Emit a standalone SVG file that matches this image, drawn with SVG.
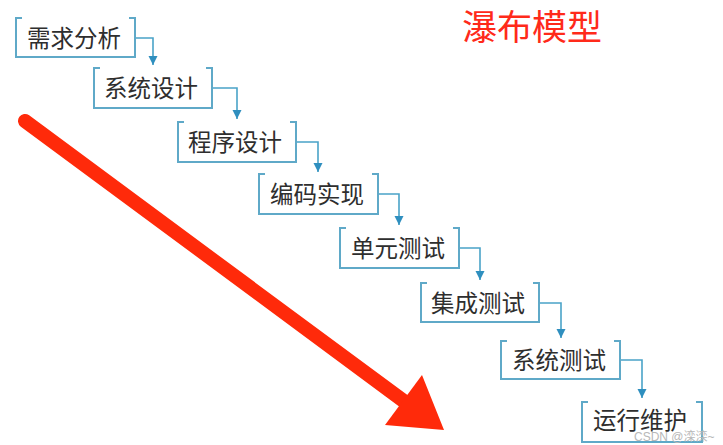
<svg xmlns="http://www.w3.org/2000/svg" width="723" height="445" viewBox="0 0 723 445">
<style>
.box{fill:none;stroke:#5fa9c8;stroke-width:2}
.lbl{font-family:"Noto Sans CJK SC","Liberation Serif",serif;font-size:23.5px;fill:#2e2e2e;text-anchor:middle}
.con{fill:none;stroke:#4aa3c8;stroke-width:1.6}
</style>
<defs>
<marker id="ah" markerWidth="10" markerHeight="10" refX="9" refY="5" orient="auto" markerUnits="userSpaceOnUse">
<path d="M0,0.5 L9,5 L0,9.5 Z" fill="#2f8fbf"/>
</marker>
</defs>
<rect width="723" height="445" fill="#ffffff"/>
<text x="532" y="40" font-family="Noto Sans CJK SC, sans-serif" font-size="35" fill="#ff2a1a" text-anchor="middle">瀑布模型</text>
<g id="connectors">
<path class="con" marker-end="url(#ah)" d="M135,38 H153 V65"/>
<path class="con" marker-end="url(#ah)" d="M212,88 H237 V119"/>
<path class="con" marker-end="url(#ah)" d="M296,142 H318 V172"/>
<path class="con" marker-end="url(#ah)" d="M378,194 H399 V225"/>
<path class="con" marker-end="url(#ah)" d="M459,248 H480 V280"/>
<path class="con" marker-end="url(#ah)" d="M539,303 H561 V338"/>
<path class="con" marker-end="url(#ah)" d="M620,360 H642 V398"/>
</g>
<g id="n1"><path class="box" d="M22,18 H16 V57 H135 V18 H129"/><text class="lbl" x="74" y="47">需求分析</text></g>
<g id="n2"><path class="box" d="M100,68 H94 V108 H212 V68 H206"/><text class="lbl" x="151" y="97">系统设计</text></g>
<g id="n3"><path class="box" d="M184,122 H178 V162 H296 V122 H290"/><text class="lbl" x="235" y="151">程序设计</text></g>
<g id="n4"><path class="box" d="M265,174 H259 V214 H378 V174 H372"/><text class="lbl" x="317" y="203">编码实现</text></g>
<g id="n5"><path class="box" d="M346,228 H340 V268 H459 V228 H453"/><text class="lbl" x="398" y="257">单元测试</text></g>
<g id="n6"><path class="box" d="M427,283 H421 V322 H539 V283 H533"/><text class="lbl" x="478" y="312">集成测试</text></g>
<g id="n7"><path class="box" d="M507,341 H501 V379 H620 V341 H614"/><text class="lbl" x="559" y="369">系统测试</text></g>
<g id="n8"><path class="box" d="M588,402 H582 V442 H702 V402 H696"/><text class="lbl" x="640" y="429">运行维护</text></g>
<g id="bigarrow">
<line x1="25" y1="121" x2="405" y2="402" stroke="#ff2a0a" stroke-width="14" stroke-linecap="round"/>
<polygon points="422,375 444,430 385,425" fill="#ff2a0a"/>
</g>
<text x="634" y="441" font-family="Liberation Sans, Noto Sans CJK SC, sans-serif" font-size="12" fill="#b8b8b8">CSDN @滦滦~</text>
</svg>
